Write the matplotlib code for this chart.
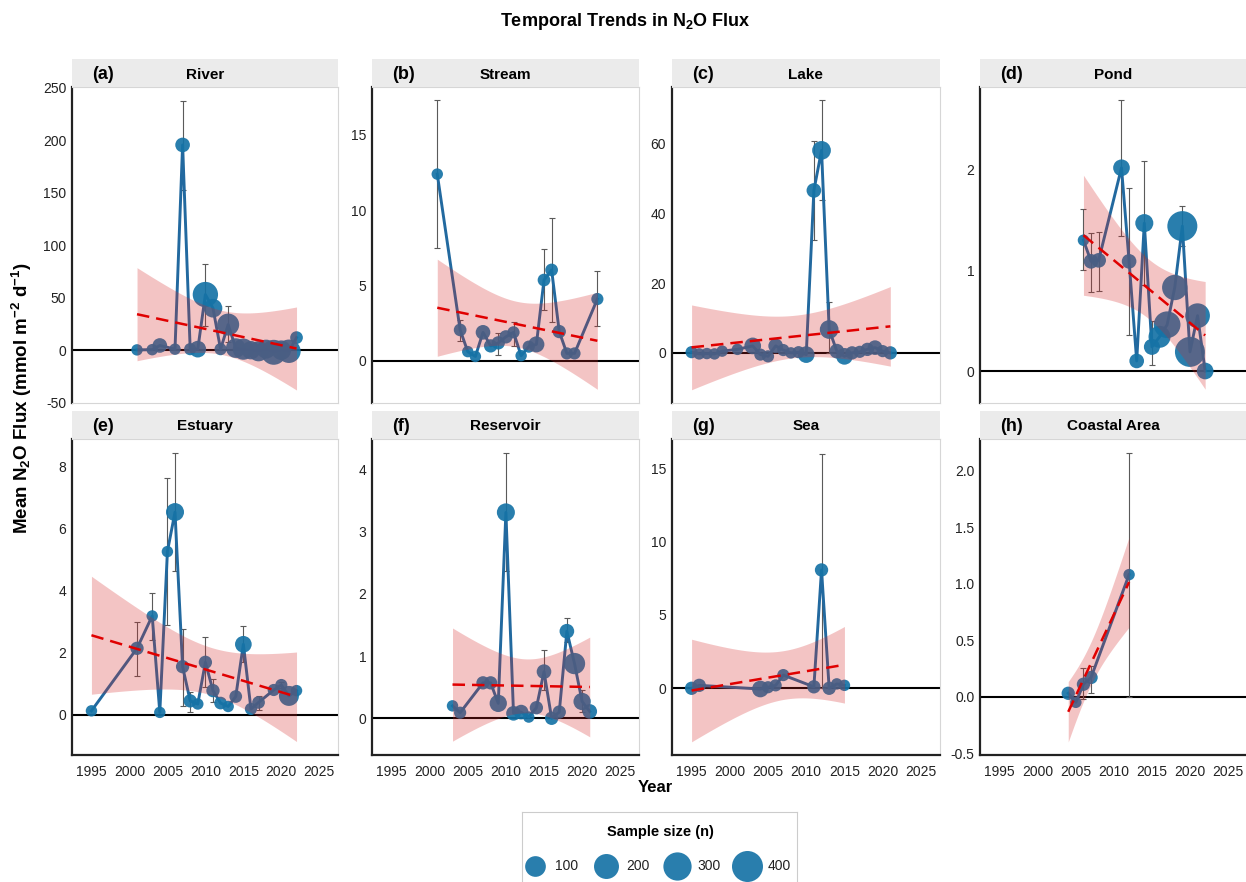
import numpy as np
import matplotlib
matplotlib.use('Agg')
import matplotlib.pyplot as plt
from matplotlib.ticker import FormatStrFormatter
from math import lgamma

plt.rcParams['font.family'] = ['Liberation Sans', 'DejaVu Sans']
plt.rcParams['mathtext.fontset'] = 'custom'
plt.rcParams['mathtext.rm'] = 'Liberation Sans'
plt.rcParams['mathtext.bf'] = 'Liberation Sans:bold'
plt.rcParams['mathtext.default'] = 'bf'
plt.rcParams['axes.unicode_minus'] = False

nan = np.nan

# --- yearly means, sample sizes and error bar ends per ecosystem ---
river_year = [2001, 2003, 2004, 2006, 2007, 2008, 2009, 2010, 2011, 2012,
              2013, 2014, 2015, 2016, 2017, 2018, 2019, 2020, 2021, 2022]
river_mean = [0.3, 0.5, 4.5, 1.0, 195.5, 1.0, 1.0, 53.0, 40.0, 1.0,
              24.4, 2.0, 1.0, 0.0, -1.0, 1.0, -2.0, 0.0, -1.0, 12.0]
river_n = [1, 1, 17, 1, 17, 3, 37, 210, 65, 3, 127, 80, 110, 60, 90, 70, 200, 80, 160, 5]
river_lo = [nan, nan, nan, nan, 153, nan, nan, 23.5, nan, nan, 8, nan, nan, nan, nan, nan, nan, nan, nan, nan]
river_hi = [nan, nan, nan, nan, 237.6, nan, nan, 82, nan, nan, 42.5, nan, nan, nan, nan, nan, nan, nan, nan, nan]

stream_year = [2001, 2004, 2005, 2006, 2007, 2008, 2009, 2010, 2011, 2012,
               2013, 2014, 2015, 2016, 2017, 2018, 2019, 2022]
stream_mean = [12.4, 2.06, 0.62, 0.3, 1.9, 1.0, 1.2, 1.6, 1.9, 0.35,
               0.95, 1.1, 5.37, 6.04, 1.95, 0.5, 0.5, 4.11]
stream_n = [1, 5, 1, 1, 17, 8, 8, 8, 3, 1, 3, 30, 5, 5, 8, 3, 3, 3]
stream_lo = [7.5, 1.3, nan, nan, nan, nan, 0.4, nan, 1.0, nan, nan, nan, 3.4, 2.6, nan, nan, nan, 2.3]
stream_hi = [17.3, 2.7, nan, nan, nan, nan, 1.85, nan, 2.6, nan, nan, nan, 7.4, 9.5, nan, nan, nan, 6.0]

lake_year = [1995, 1996, 1997, 1998, 1999, 2001, 2003, 2004, 2005, 2006, 2007, 2008, 2009,
             2010, 2011, 2012, 2013, 2014, 2015, 2016, 2017, 2018, 2019, 2020, 2021]
lake_mean = [0.2, -0.3, -0.2, -0.3, 0.5, 1.0, 2.0, -0.5, -1.0, 2.0, 0.8, 0.0, 0.2,
             -0.5, 46.6, 58.1, 6.7, 0.5, -1.0, 0.0, 0.3, 1.0, 1.5, 0.5, 0.0]
lake_n = [3, 1, 1, 1, 1, 1, 37, 3, 3, 17, 3, 1, 3, 37, 17, 65, 65, 17, 37, 8, 3, 8, 17, 3, 8]
lake_lo = [nan] * 14 + [32.5, 43.8, 0.0] + [nan] * 8
lake_hi = [nan] * 14 + [60.8, 72.5, 14.5] + [nan] * 8

pond_year = [2006, 2007, 2008, 2011, 2012, 2013, 2014, 2015, 2016, 2017, 2018, 2019, 2020, 2021, 2022]
pond_mean = [1.30, 1.09, 1.10, 2.02, 1.09, 0.10, 1.47, 0.24, 0.34, 0.46, 0.83, 1.44, 0.19, 0.55, 0.0]
pond_n = [1, 17, 17, 37, 17, 17, 55, 30, 127, 250, 210, 362, 362, 193, 37]
pond_lo = [1.0, 0.79, 0.80, 1.34, 0.36, nan, 0.85, 0.06, nan, nan, nan, 1.24, nan, nan, nan]
pond_hi = [1.61, 1.37, 1.38, 2.69, 1.82, nan, 2.09, 0.5, nan, nan, nan, 1.64, nan, nan, nan]

est_year = [1995, 2001, 2003, 2004, 2005, 2006, 2007, 2008, 2009, 2010, 2011,
            2012, 2013, 2014, 2015, 2016, 2017, 2019, 2020, 2021, 2022]
est_mean = [0.13, 2.14, 3.18, 0.08, 5.25, 6.52, 1.55, 0.45, 0.35, 1.69, 0.78,
            0.38, 0.27, 0.59, 2.27, 0.19, 0.40, 0.80, 0.96, 0.61, 0.78]
est_n = [1, 8, 1, 1, 1, 55, 8, 8, 1, 8, 8, 5, 1, 5, 37, 3, 5, 3, 3, 87, 1]
est_lo = [nan, 1.25, 2.41, nan, 2.9, 4.61, 0.3, 0.1, nan, 0.9, 0.4,
          nan, nan, nan, 1.7, nan, 0.15, nan, 0.85, nan, nan]
est_hi = [nan, 2.98, 3.93, nan, 7.61, 8.43, 2.76, 0.75, nan, 2.49, 1.15,
          nan, nan, nan, 2.85, nan, 0.6, nan, 1.05, nan, nan]

res_year = [2003, 2004, 2007, 2008, 2009, 2010, 2011, 2012, 2013, 2014, 2015, 2016, 2017, 2018, 2019, 2020, 2021]
res_mean = [0.20, 0.09, 0.57, 0.57, 0.24, 3.31, 0.08, 0.10, 0.02, 0.17, 0.75, 0.0, 0.10, 1.40, 0.88, 0.27, 0.11]
res_n = [1, 3, 8, 8, 45, 55, 17, 17, 1, 8, 17, 8, 8, 17, 112, 45, 17]
res_lo = [nan] * 5 + [2.37] + [nan] * 4 + [0.45] + [nan] * 2 + [1.22, nan, 0.1, nan]
res_hi = [nan] * 5 + [4.26] + [nan] * 4 + [1.09] + [nan] * 2 + [1.62, nan, 0.45, nan]

sea_year = [1995, 1996, 2004, 2005, 2006, 2007, 2011, 2012, 2013, 2014, 2015]
sea_mean = [0.0, 0.2, -0.05, 0.07, 0.2, 0.9, 0.1, 8.07, 0.0, 0.3, 0.2]
sea_n = [8, 8, 37, 3, 3, 3, 8, 8, 8, 1, 1]
sea_lo = [nan] * 7 + [0.0] + [nan] * 3
sea_hi = [nan] * 7 + [16.0] + [nan] * 3

coast_year = [2004, 2005, 2006, 2007, 2012]
coast_mean = [0.03, -0.05, 0.11, 0.17, 1.08]
coast_n = [8, 1, 8, 8, 1]
coast_lo = [nan, nan, -0.02, 0.03, 0.0]
coast_hi = [nan, nan, 0.25, 0.27, 2.16]

legend_n = [100, 200, 300, 400]
year_ticks = [1995, 2000, 2005, 2010, 2015, 2020, 2025]

panels = [
    ('(a)', 'River', river_year, river_mean, river_n, river_lo, river_hi,
     (-49.4, 250.4), [-50, 0, 50, 100, 150, 200, 250], '%d'),
    ('(b)', 'Stream', stream_year, stream_mean, stream_n, stream_lo, stream_hi,
     (-2.77, 18.16), [0, 5, 10, 15], '%d'),
    ('(c)', 'Lake', lake_year, lake_mean, lake_n, lake_lo, lake_hi,
     (-14.3, 76.2), [0, 20, 40, 60], '%d'),
    ('(d)', 'Pond', pond_year, pond_mean, pond_n, pond_lo, pond_hi,
     (-0.315, 2.82), [0, 1, 2], '%d'),
    ('(e)', 'Estuary', est_year, est_mean, est_n, est_lo, est_hi,
     (-1.29, 8.87), [0, 2, 4, 6, 8], '%d'),
    ('(f)', 'Reservoir', res_year, res_mean, res_n, res_lo, res_hi,
     (-0.59, 4.49), [0, 1, 2, 3, 4], '%d'),
    ('(g)', 'Sea', sea_year, sea_mean, sea_n, sea_lo, sea_hi,
     (-4.55, 17.0), [0, 5, 10, 15], '%d'),
    ('(h)', 'Coastal Area', coast_year, coast_mean, coast_n, coast_lo, coast_hi,
     (-0.516, 2.28), [-0.5, 0.0, 0.5, 1.0, 1.5, 2.0], '%.1f'),
]

POINT_C = '#1673a6'
LINE_C = '#22699f'
W, H = 1246, 882
fig = plt.figure(figsize=(W / 100, H / 100), dpi=100)


def rect(x0, y0, x1, y1):
    # pixel box (top-left origin) -> figure fraction
    return [x0 / W, 1 - y1 / H, (x1 - x0) / W, (y1 - y0) / H]


def size_pt2(n):
    d_px = 10.4 + 1.03 * np.sqrt(np.asarray(n, float))
    return (d_px * 72 / 100) ** 2


def t_quantile(df, p=0.975):
    x = np.linspace(0, 60, 300001)
    c = np.exp(lgamma((df + 1) / 2) - lgamma(df / 2)) / np.sqrt(df * np.pi)
    pdf = c * (1 + x ** 2 / df) ** (-(df + 1) / 2)
    cdf = 0.5 + np.concatenate([[0], np.cumsum((pdf[1:] + pdf[:-1]) / 2 * np.diff(x))])
    return np.interp(p, cdf, x)


def lm_band(x, y):
    x = np.asarray(x, float)
    y = np.asarray(y, float)
    n = len(x)
    slope, icpt = np.polyfit(x, y, 1)
    resid = y - (slope * x + icpt)
    s = np.sqrt(np.sum(resid ** 2) / (n - 2))
    xs = np.linspace(x.min(), x.max(), 80)
    fit = slope * xs + icpt
    se = s * np.sqrt(1 / n + (xs - x.mean()) ** 2 / np.sum((x - x.mean()) ** 2))
    half = t_quantile(n - 2) * se
    return xs, fit, fit - half, fit + half


col_x = [(71.7, 338.3), (371.7, 639.3), (671.7, 940), (980, 1247)]
row_y = [(87.3, 402.7), (439, 755)]
strip_h = 28

for i, (tag, name, yrs, mean, n, lo, hi, ylim, yticks, fmt) in enumerate(panels):
    r, c = divmod(i, 4)
    x0, x1 = col_x[c]
    y0, y1 = row_y[r]
    ax = fig.add_axes(rect(x0, y0, x1, y1))
    yrs = np.asarray(yrs, float)
    mean = np.asarray(mean, float)
    lo = np.asarray(lo, float)
    hi = np.asarray(hi, float)

    ax.axhline(0, color='black', lw=1.5, zorder=1)
    m = ~np.isnan(lo)
    ax.errorbar(yrs[m], mean[m], yerr=[mean[m] - lo[m], hi[m] - mean[m]], fmt='none',
                ecolor='#5a5a5a', elinewidth=0.8, capsize=2.2, capthick=0.8, zorder=2)
    ax.plot(yrs, mean, color=LINE_C, lw=2.1, zorder=3)
    ax.scatter(yrs, mean, s=size_pt2(n), color=POINT_C, alpha=0.92, lw=0, zorder=4)

    xs, fit, lo_b, hi_b = lm_band(yrs, mean)
    ax.fill_between(xs, lo_b, hi_b, color='#d62728', alpha=0.27, lw=0, zorder=5)
    ax.plot(xs, fit, color='#e00000', lw=1.8, dashes=(5, 2.8), zorder=6)

    ax.set_xlim(1992.4, 2027.5)
    ax.set_ylim(*ylim)
    ax.set_yticks(yticks)
    ax.yaxis.set_major_formatter(FormatStrFormatter(fmt))
    ax.set_xticks(year_ticks)
    ax.tick_params(length=0, labelsize=10, colors='#222222', pad=4)
    ax.tick_params(axis='x', pad=7)
    if r == 0:
        ax.tick_params(axis='x', labelbottom=False)
    for side in ['top', 'right', 'bottom']:
        ax.spines[side].set_color('#d6d6d6')
        ax.spines[side].set_linewidth(0.8)
    ax.spines['left'].set_color('#222222')
    ax.spines['left'].set_linewidth(1.6)
    if r == 1:
        ax.spines['bottom'].set_color('#222222')
        ax.spines['bottom'].set_linewidth(1.6)

    strip = fig.add_axes(rect(x0, y0 - strip_h, x1, y0))
    strip.set_facecolor('#ebebeb')
    strip.set_xticks([])
    strip.set_yticks([])
    for sp in strip.spines.values():
        sp.set_visible(False)
    strip.text(20 / (x1 - x0), 0.45, tag, transform=strip.transAxes, ha='left', va='center',
               fontsize=13, fontweight='bold')
    strip.text(0.5, 0.45, name, transform=strip.transAxes, ha='center', va='center',
               fontsize=11, fontweight='bold')

fig.text(625 / W, 1 - 22 / H, r'Temporal Trends in N$_2$O Flux', ha='center', va='center',
         fontsize=13, fontweight='bold')
fig.text(22 / W, 1 - 398 / H, r'Mean N$_2$O Flux (mmol m$^{-2}$ d$^{-1}$)', rotation=90,
         ha='center', va='center', fontsize=13.5, fontweight='bold')
fig.text(655 / W, 1 - 787 / H, 'Year', ha='center', va='center', fontsize=12, fontweight='bold')

# sample size legend
leg = fig.add_axes(rect(522, 812, 797, 895))
leg.set_xlim(522, 797)
leg.set_ylim(895, 812)
leg.set_xticks([])
leg.set_yticks([])
for sp in leg.spines.values():
    sp.set_color('#cccccc')
    sp.set_linewidth(0.8)
leg.text(660, 832, 'Sample size (n)', ha='center', va='center', fontsize=10.5, fontweight='bold')
for k, val in enumerate(legend_n):
    kx = 535 + k * 70.8
    leg.scatter([kx], [866], s=size_pt2(val), color=POINT_C, alpha=0.92, lw=0, clip_on=False)
    leg.text(kx + 32, 866, str(val), ha='center', va='center', fontsize=10, color='#222222')

fig.savefig('out.png', dpi=100)
